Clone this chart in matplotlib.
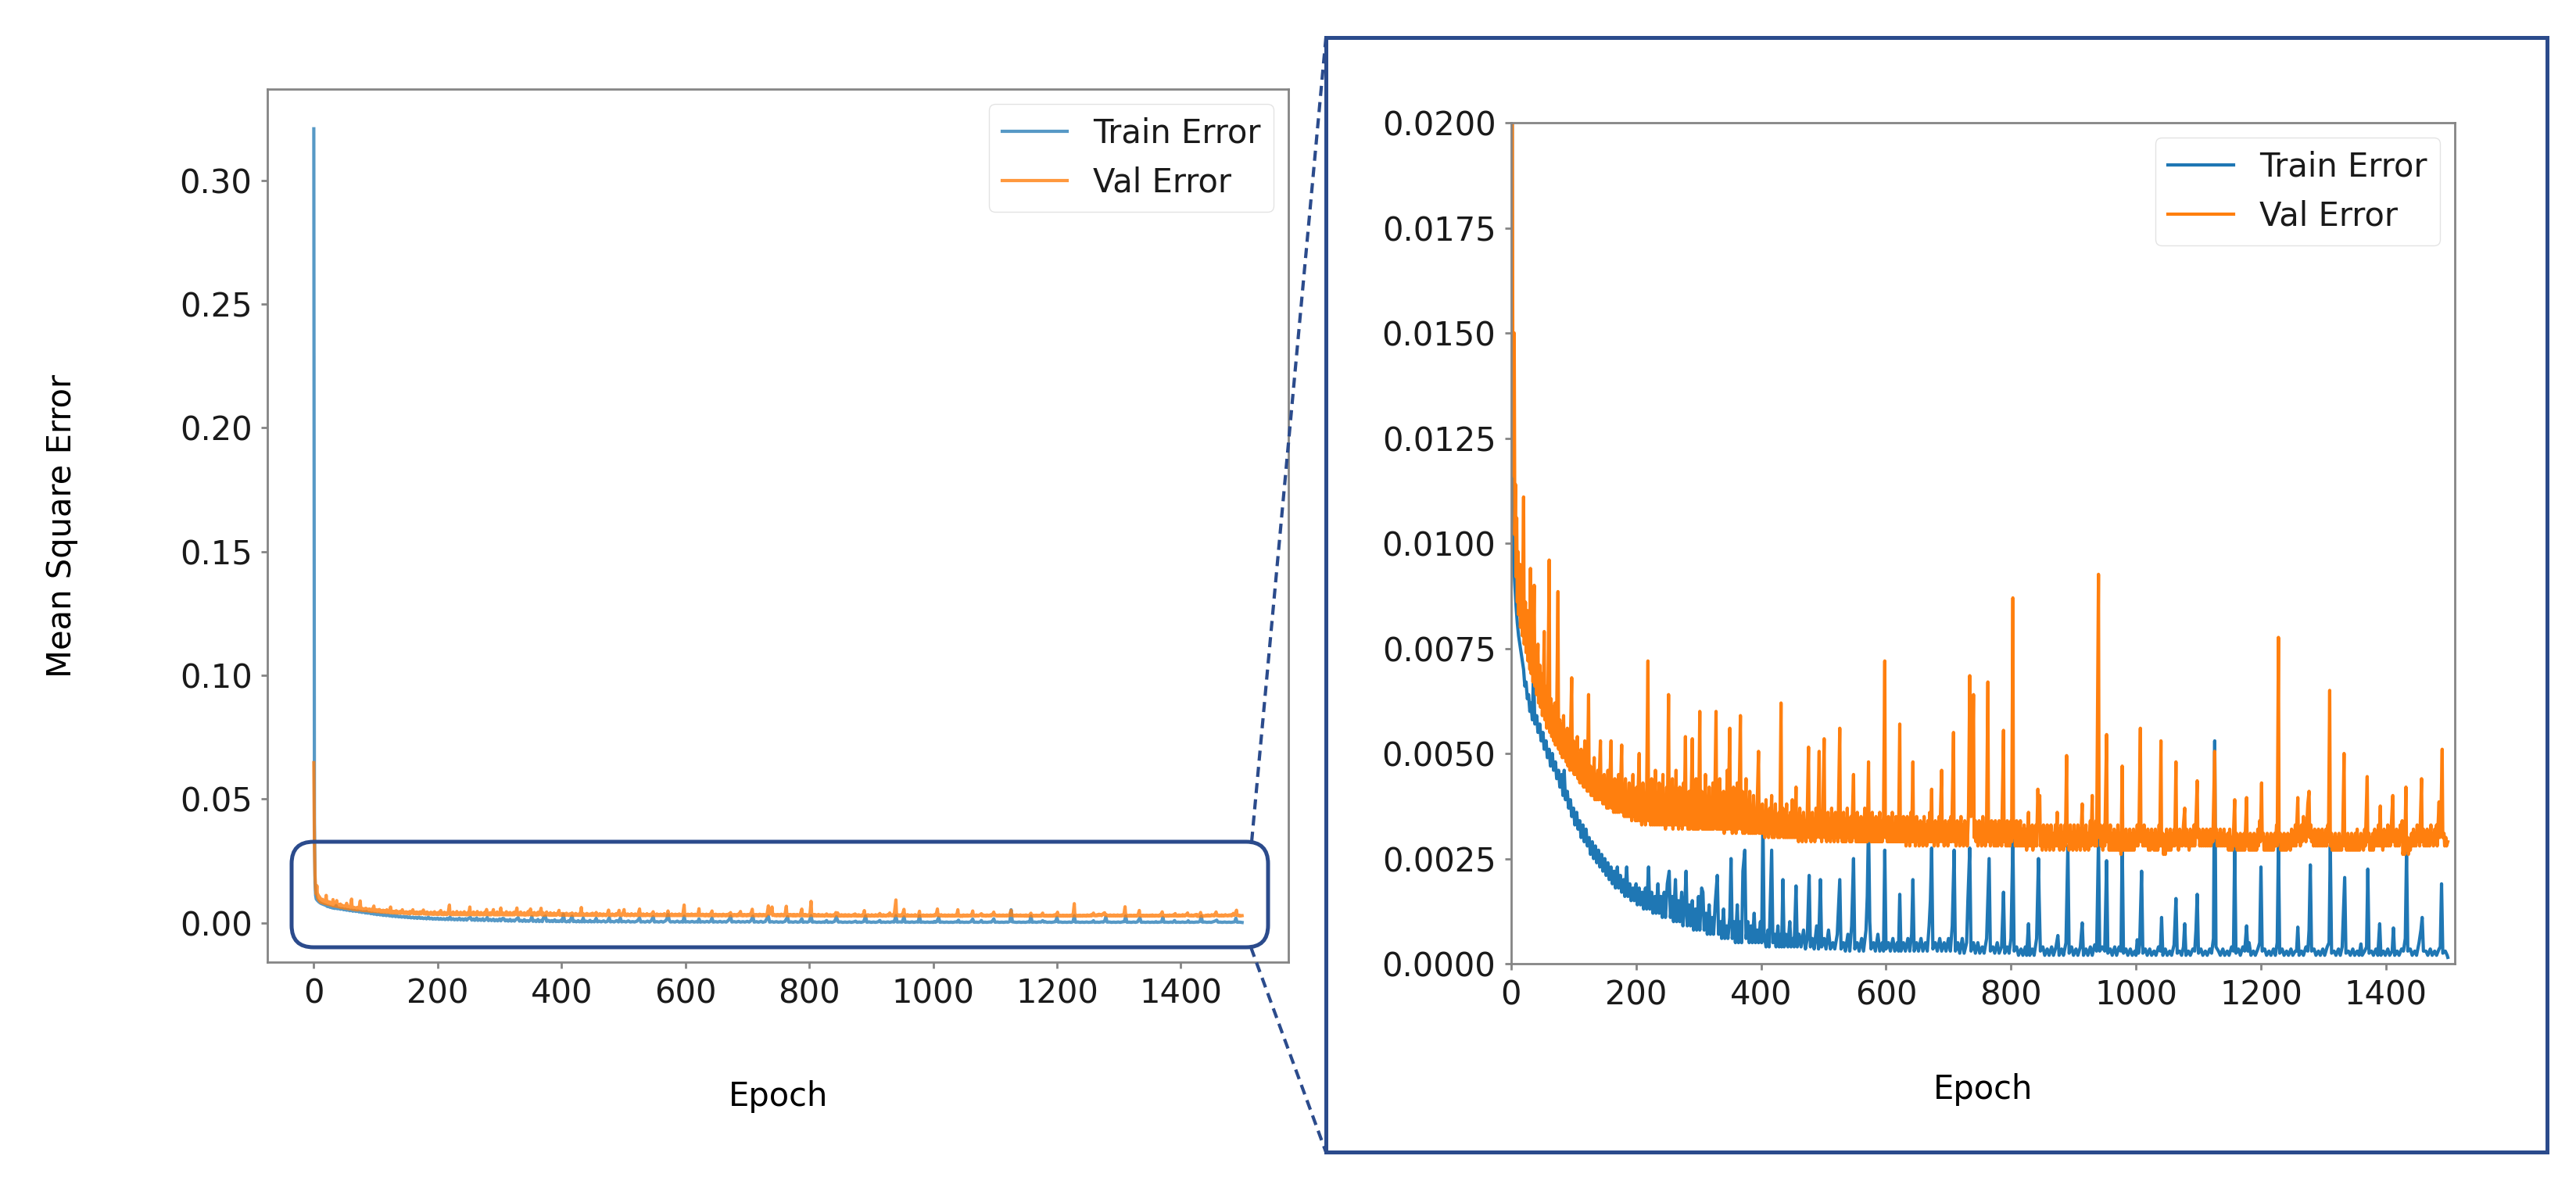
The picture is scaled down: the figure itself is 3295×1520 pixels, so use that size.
import matplotlib
matplotlib.use('Agg')
import matplotlib.pyplot as plt
from matplotlib.patches import FancyBboxPatch, Rectangle
from matplotlib.lines import Line2D
from matplotlib.transforms import IdentityTransform
from matplotlib.ticker import FormatStrFormatter

# (epoch, mse * 1e3)
train_points = [
    (0, 320.8), (1, 40), (2, 16), (3, 11), (4, 9.6), (6, 9.0), (8, 8.5), (10, 8.1), (12, 7.8), (14, 7.6),
    (16, 7.4), (18, 7.2), (20, 7.0), (22, 6.6), (24, 6.7), (26, 6.3), (28, 6.4), (30, 6.0), (32, 6.2), (34, 5.8),
    (36, 7.0), (38, 5.7), (41, 5.9), (43, 5.5), (46, 5.7), (48, 5.3), (51, 5.5), (53, 5.1), (56, 5.3), (58, 4.9),
    (61, 5.1), (63, 4.7), (66, 5.0), (68, 4.6), (71, 4.8), (73, 4.4), (76, 4.6), (78, 4.2), (81, 4.5), (83, 4.0),
    (85, 4.6), (87, 3.9), (90, 4.1), (92, 3.7), (95, 3.9), (97, 3.5), (100, 3.7), (102, 3.3), (105, 3.6), (107, 3.2),
    (110, 3.4), (112, 3.0), (115, 3.3), (117, 2.9), (120, 3.2), (122, 2.8), (125, 3.0), (127, 2.6), (130, 2.9), (132, 2.5),
    (135, 2.8), (137, 2.4), (140, 2.7), (142, 2.3), (145, 2.6), (147, 2.2), (150, 2.5), (152, 2.1), (155, 2.4), (157, 2.0),
    (160, 2.3), (162, 1.9), (165, 2.2), (167, 1.8), (170, 2.3), (172, 1.8), (175, 2.1), (177, 1.7), (180, 2.0), (182, 1.6),
    (185, 2.3), (187, 1.6), (190, 1.9), (192, 1.5), (195, 1.8), (197, 1.5), (200, 1.9), (202, 1.4), (205, 1.8), (207, 1.4),
    (210, 1.7), (212, 1.3), (215, 1.8), (217, 1.3), (220, 2.3), (222, 1.3), (225, 1.7), (227, 1.2), (230, 1.6), (232, 1.2),
    (235, 1.9), (237, 1.2), (240, 1.6), (242, 1.1), (245, 1.7), (247, 1.1), (250, 1.9), (253, 2.2), (255, 1.1), (258, 1.6),
    (260, 1.0), (263, 2.0), (265, 1.0), (268, 1.5), (270, 1.0), (273, 1.7), (275, 0.9), (278, 1.4), (280, 2.2), (282, 0.9),
    (285, 1.4), (287, 0.9), (290, 1.5), (292, 0.8), (295, 1.3), (297, 0.8), (300, 1.6), (302, 0.8), (305, 1.8), (307, 1.7),
    (309, 0.8), (312, 1.2), (314, 0.7), (317, 1.4), (319, 0.7), (322, 1.1), (324, 0.7), (327, 1.5), (330, 2.1), (332, 0.7),
    (335, 1.0), (337, 0.6), (340, 1.3), (342, 0.6), (345, 0.9), (347, 0.6), (350, 1.1), (352, 2.5), (354, 0.6), (357, 1.0),
    (359, 0.5), (362, 1.4), (364, 0.5), (367, 1.0), (369, 0.5), (371, 2.2), (374, 2.7), (376, 0.6), (379, 1.0), (381, 0.5),
    (384, 0.9), (386, 0.5), (389, 1.2), (391, 0.5), (394, 0.8), (396, 0.5), (399, 1.0), (401, 0.5), (403, 3.5), (405, 0.7),
    (408, 0.4), (411, 0.8), (413, 0.4), (417, 2.7), (419, 0.5), (422, 0.7), (424, 0.4), (427, 0.9), (429, 0.4), (432, 0.7),
    (433, 0.4), (435, 2.0), (437, 0.4), (440, 0.7), (443, 0.4), (446, 1.0), (448, 0.4), (451, 0.6), (453, 0.4), (456, 1.85),
    (458, 0.4), (461, 0.7), (464, 0.4), (468, 0.8), (471, 0.35), (474, 0.6), (477, 2.1), (479, 0.4), (482, 0.6), (485, 0.35),
    (489, 0.9), (492, 0.35), (495, 2.0), (497, 0.4), (501, 0.6), (504, 0.35), (508, 0.8), (511, 0.35), (515, 0.5), (518, 0.35),
    (522, 0.7), (526, 2.0), (528, 0.35), (532, 0.5), (535, 0.3), (539, 0.7), (542, 0.3), (545, 0.9), (548, 2.5), (550, 0.35),
    (554, 0.5), (557, 0.3), (561, 0.6), (564, 0.3), (568, 0.8), (570, 1.6), (572, 3.4), (574, 1.0), (576, 0.35), (580, 0.5),
    (583, 0.3), (587, 0.7), (590, 0.3), (594, 0.5), (596, 0.3), (598, 2.7), (600, 0.35), (604, 0.5), (607, 0.3), (611, 0.6),
    (614, 0.3), (618, 0.5), (620, 0.3), (622, 1.65), (624, 0.3), (628, 0.5), (631, 0.3), (635, 0.6), (638, 0.3), (641, 0.7),
    (643, 2.0), (645, 0.3), (649, 0.5), (652, 0.3), (656, 0.6), (659, 0.3), (663, 0.5), (666, 0.3), (669, 0.9), (671, 1.5),
    (673, 2.75), (675, 0.35), (679, 0.5), (682, 0.3), (686, 0.6), (689, 0.3), (693, 0.5), (696, 0.3), (700, 0.6), (703, 0.3),
    (706, 0.9), (709, 2.7), (711, 0.3), (715, 0.5), (718, 0.25), (722, 0.6), (725, 0.25), (729, 0.5), (731, 1.5), (734, 2.75),
    (736, 0.3), (740, 0.5), (743, 0.25), (747, 0.5), (750, 0.25), (754, 0.4), (757, 0.25), (761, 0.6), (765, 2.5), (767, 0.3),
    (771, 0.4), (774, 0.25), (778, 0.5), (781, 0.25), (785, 0.4), (788, 1.7), (790, 0.25), (794, 0.4), (797, 0.25), (800, 0.6),
    (803, 2.95), (805, 0.3), (809, 0.4), (812, 0.2), (816, 0.35), (819, 0.2), (823, 0.4), (825, 0.2), (828, 0.95), (830, 0.2),
    (834, 0.35), (837, 0.2), (841, 0.6), (844, 2.5), (845, 1.6), (847, 0.3), (851, 0.4), (854, 0.2), (858, 0.35), (861, 0.2),
    (865, 0.4), (868, 0.2), (872, 0.4), (875, 0.67), (877, 0.2), (881, 0.35), (884, 0.2), (888, 0.5), (891, 2.8), (893, 0.25),
    (897, 0.4), (900, 0.2), (904, 0.35), (907, 0.2), (911, 0.4), (914, 0.97), (916, 0.2), (920, 0.35), (923, 0.2), (927, 0.4),
    (930, 0.2), (934, 0.45), (937, 0.3), (940, 2.95), (942, 0.3), (946, 0.4), (950, 0.3), (953, 2.45), (955, 0.25), (959, 0.35),
    (962, 0.2), (966, 0.4), (969, 0.2), (973, 0.4), (976, 0.3), (978, 2.9), (980, 0.25), (984, 0.35), (987, 0.2), (991, 0.35),
    (994, 0.2), (998, 0.3), (1000, 0.2), (1002, 0.57), (1004, 0.25), (1006, 0.5), (1009, 2.2), (1011, 0.25), (1015, 0.35), (1018, 0.2),
    (1022, 0.35), (1025, 0.2), (1029, 0.3), (1032, 0.2), (1036, 0.4), (1039, 0.3), (1041, 1.1), (1043, 0.2), (1047, 0.35), (1050, 0.2),
    (1054, 0.3), (1057, 0.2), (1061, 0.45), (1064, 1.55), (1066, 0.25), (1070, 0.3), (1073, 0.2), (1076, 0.4), (1078, 0.95), (1080, 0.2),
    (1084, 0.3), (1087, 0.2), (1091, 0.35), (1094, 0.3), (1096, 0.8), (1098, 1.65), (1100, 0.25), (1104, 0.35), (1107, 0.2), (1111, 0.3),
    (1114, 0.2), (1118, 0.35), (1121, 0.25), (1124, 0.6), (1126, 5.3), (1128, 0.4), (1132, 0.3), (1135, 0.2), (1139, 0.35), (1142, 0.2),
    (1146, 0.3), (1149, 0.2), (1153, 0.4), (1156, 0.3), (1158, 2.8), (1160, 0.25), (1164, 0.35), (1167, 0.2), (1171, 0.4), (1174, 0.3),
    (1177, 0.9), (1179, 0.3), (1181, 0.5), (1184, 0.2), (1188, 0.3), (1191, 0.2), (1195, 0.35), (1198, 0.5), (1200, 2.3), (1202, 0.3),
    (1206, 0.35), (1209, 0.2), (1213, 0.3), (1216, 0.2), (1220, 0.35), (1223, 0.2), (1226, 0.5), (1228, 2.9), (1230, 0.25), (1234, 0.35),
    (1237, 0.2), (1241, 0.3), (1244, 0.2), (1248, 0.35), (1251, 0.2), (1255, 0.3), (1257, 0.3), (1259, 0.87), (1261, 0.2), (1265, 0.3),
    (1268, 0.2), (1272, 0.4), (1275, 0.3), (1277, 0.8), (1279, 2.35), (1281, 0.3), (1285, 0.35), (1288, 0.2), (1292, 0.3), (1295, 0.2),
    (1299, 0.35), (1302, 0.2), (1306, 0.4), (1309, 0.5), (1311, 2.8), (1313, 0.25), (1317, 0.3), (1320, 0.2), (1324, 0.35), (1327, 0.2),
    (1330, 0.4), (1334, 2.05), (1336, 0.25), (1340, 0.3), (1343, 0.2), (1347, 0.35), (1350, 0.2), (1354, 0.3), (1357, 0.2), (1360, 0.47),
    (1362, 0.2), (1366, 0.3), (1369, 0.4), (1371, 2.25), (1373, 0.25), (1377, 0.3), (1380, 0.2), (1384, 0.35), (1387, 0.2), (1390, 0.95),
    (1392, 0.2), (1396, 0.3), (1399, 0.2), (1403, 0.35), (1406, 0.2), (1410, 0.3), (1412, 0.85), (1414, 0.2), (1418, 0.3), (1421, 0.2),
    (1425, 0.35), (1428, 0.3), (1431, 0.6), (1433, 2.7), (1435, 0.3), (1439, 0.35), (1442, 0.2), (1446, 0.3), (1449, 0.2), (1453, 0.5),
    (1456, 0.8), (1458, 1.1), (1460, 0.3), (1464, 0.3), (1467, 0.2), (1471, 0.35), (1474, 0.2), (1478, 0.3), (1481, 0.2), (1485, 0.35),
    (1487, 0.4), (1489, 1.9), (1491, 0.25), (1495, 0.3), (1498, 0.2), (1499, 0.15),
]

val_points = [
    (0, 64.7), (1, 32), (2, 19), (3, 13.5), (4, 11.6), (5, 15.0), (6, 10.2), (7, 11.4), (8, 9.2), (9, 10.6),
    (10, 8.6), (11, 9.8), (12, 8.3), (14, 9.5), (15, 8.0), (17, 9.0), (18, 7.8), (20, 11.1), (21, 7.6), (23, 8.6),
    (24, 7.4), (26, 8.4), (27, 7.2), (29, 8.1), (30, 7.0), (31, 9.4), (32, 6.9), (34, 7.8), (35, 6.7), (37, 9.0),
    (38, 6.6), (40, 7.5), (41, 6.4), (43, 7.6), (44, 6.2), (46, 7.1), (47, 6.1), (49, 6.9), (50, 5.9), (52, 6.8),
    (53, 7.9), (54, 5.8), (56, 6.6), (57, 5.6), (59, 6.5), (61, 9.6), (62, 5.5), (64, 6.3), (65, 5.4), (67, 6.1),
    (68, 5.3), (70, 6.2), (71, 5.2), (73, 5.9), (75, 8.85), (76, 5.1), (78, 5.8), (79, 5.0), (81, 5.7), (82, 4.9),
    (84, 5.9), (85, 4.9), (87, 5.5), (88, 4.8), (90, 5.6), (91, 4.7), (93, 5.4), (94, 4.6), (97, 6.8), (98, 4.6),
    (100, 5.3), (101, 4.5), (103, 5.2), (104, 4.5), (106, 5.4), (107, 4.4), (109, 5.0), (110, 4.3), (112, 5.1), (113, 4.3),
    (115, 4.9), (116, 4.2), (118, 5.3), (119, 4.2), (121, 4.8), (122, 4.1), (124, 6.4), (125, 4.1), (127, 4.7), (128, 4.0),
    (130, 4.6), (131, 4.0), (133, 4.9), (134, 3.9), (136, 4.5), (137, 3.9), (139, 4.6), (140, 3.9), (143, 5.3), (144, 3.9),
    (146, 4.4), (147, 3.8), (149, 4.5), (150, 3.8), (152, 4.3), (153, 3.7), (155, 4.6), (156, 3.7), (158, 4.3), (160, 5.3),
    (161, 3.7), (163, 4.2), (164, 3.6), (166, 4.4), (167, 3.6), (169, 4.2), (170, 3.6), (172, 4.5), (173, 3.6), (175, 4.1),
    (177, 5.2), (178, 3.6), (180, 4.2), (181, 3.5), (183, 4.4), (184, 3.5), (186, 4.0), (187, 3.5), (189, 4.3), (190, 3.5),
    (192, 4.1), (193, 3.4), (195, 4.5), (196, 3.5), (198, 4.0), (199, 3.4),
    (201, 4.2), (202, 3.4), (205, 5.0), (206, 3.4), (208, 4.1), (209, 3.3), (211, 4.3), (212, 3.4), (214, 3.9), (215, 3.3),
    (217, 4.2), (219, 7.2), (220, 3.4), (222, 4.0), (223, 3.3), (225, 4.4), (226, 3.3), (228, 3.9), (229, 3.3), (231, 4.6),
    (232, 3.3), (234, 4.0), (235, 3.3), (237, 4.3), (238, 3.3), (240, 3.9), (241, 3.3), (243, 4.5), (244, 3.3), (246, 3.9),
    (247, 3.2), (249, 4.2), (250, 3.3), (252, 6.4), (253, 3.3), (255, 4.0), (256, 3.3), (258, 4.4), (259, 3.2), (261, 3.9),
    (262, 3.3), (264, 4.6), (265, 3.3), (267, 3.9), (268, 3.2), (270, 4.2), (271, 3.3), (273, 3.8), (274, 3.2), (276, 4.3),
    (277, 3.3), (279, 5.4), (280, 3.3), (282, 3.9), (283, 3.2), (285, 4.1), (286, 3.2), (288, 3.8), (290, 5.35), (291, 3.2),
    (293, 4.0), (294, 3.2), (296, 4.4), (297, 3.2), (299, 3.9), (300, 3.2), (302, 6.0), (303, 3.3), (305, 4.1), (306, 3.2),
    (308, 3.8), (309, 3.2), (311, 4.5), (312, 3.2), (314, 3.9), (315, 3.2), (317, 4.2), (318, 3.2), (320, 3.8), (321, 3.2),
    (323, 4.3), (324, 3.2), (326, 3.9), (328, 6.0), (329, 3.2), (331, 4.0), (332, 3.2), (334, 4.4), (335, 3.2), (337, 3.8),
    (338, 3.2), (340, 4.1), (341, 3.1), (343, 3.8), (344, 3.2), (346, 4.6), (347, 3.2), (350, 5.6), (351, 3.2), (353, 3.9),
    (354, 3.1), (356, 4.2), (357, 3.2), (359, 3.8), (360, 3.1), (362, 4.3), (363, 3.2), (365, 4.0), (367, 5.9), (368, 3.2),
    (370, 4.1), (371, 3.1), (373, 3.8), (374, 3.1), (376, 4.4), (377, 3.2), (379, 3.7), (380, 3.1), (382, 4.1), (383, 3.1),
    (385, 3.7), (386, 3.1), (388, 4.0), (389, 3.1), (391, 3.6), (392, 3.1), (394, 3.9), (396, 5.05), (397, 3.1), (399, 3.7),
    (400, 3.1), (402, 3.8), (403, 3.1), (405, 3.6), (406, 3.0), (408, 3.9), (409, 3.1), (411, 3.5), (412, 3.0), (414, 3.7),
    (415, 3.1), (417, 4.0), (418, 3.0), (420, 3.5), (421, 3.0), (423, 3.8), (424, 3.1), (426, 3.5), (427, 3.0), (429, 3.6),
    (430, 3.0), (432, 6.2), (433, 3.1), (435, 3.7), (436, 3.0), (438, 3.5), (439, 3.0), (441, 3.8), (442, 3.0), (444, 3.5),
    (445, 3.0), (447, 3.6), (448, 3.0), (450, 3.9), (451, 3.0), (453, 3.5), (454, 3.0), (456, 4.2), (457, 3.0), (459, 3.5),
    (460, 2.9), (462, 3.7), (463, 3.0), (465, 3.5), (466, 2.9), (468, 3.6), (469, 3.0), (471, 3.4), (472, 2.9), (474, 3.6),
    (476, 5.15), (477, 3.0), (479, 3.5), (480, 2.9), (482, 3.6), (483, 3.0), (485, 3.4), (486, 2.9), (488, 3.7), (489, 3.0),
    (491, 3.5), (493, 5.05), (494, 3.0), (496, 3.5), (497, 2.9), (499, 3.7), (501, 5.35), (502, 3.0), (504, 3.5), (505, 2.9),
    (507, 3.6), (508, 3.0), (510, 3.4), (511, 2.9), (513, 3.7), (514, 3.0), (516, 3.4), (517, 2.9), (519, 3.6), (520, 3.0),
    (522, 3.4), (523, 2.9), (526, 5.6), (527, 3.0), (529, 3.5), (530, 2.9), (532, 3.6), (533, 2.9), (535, 3.4), (536, 2.9),
    (538, 3.7), (539, 3.0), (541, 3.4), (542, 2.9), (544, 3.5), (545, 2.9), (548, 4.5), (549, 3.0), (551, 3.4), (552, 2.9),
    (554, 3.6), (555, 2.9), (557, 3.4), (558, 2.9), (560, 3.5), (561, 2.9), (563, 3.4), (564, 2.9), (566, 3.7), (567, 2.9),
    (569, 3.4), (570, 2.9), (572, 4.8), (573, 3.0), (575, 3.4), (576, 2.9), (578, 3.6), (579, 2.9), (581, 3.3), (582, 2.9),
    (584, 3.5), (585, 2.9), (587, 3.4), (588, 2.9), (590, 3.6), (591, 2.9), (593, 3.4), (594, 2.9), (596, 3.5), (598, 7.2),
    (599, 3.0), (601, 3.4), (602, 2.9), (604, 3.5), (605, 2.9), (607, 3.3), (608, 2.9), (610, 3.6), (611, 2.9), (613, 3.3),
    (614, 2.9), (616, 3.5), (617, 2.9), (619, 3.3), (620, 2.9), (622, 5.7), (623, 2.9), (625, 3.4), (626, 2.9), (628, 3.5),
    (629, 2.9), (631, 3.3), (632, 2.8), (634, 3.5), (635, 2.9), (637, 3.3), (638, 2.8), (640, 3.6), (641, 2.9), (643, 4.8),
    (644, 2.9), (646, 3.3), (647, 2.8), (649, 3.5), (650, 2.9), (652, 3.3), (653, 2.8), (655, 3.4), (656, 2.9), (658, 3.3),
    (659, 2.8), (661, 3.5), (662, 2.9), (664, 3.3), (665, 2.8), (667, 3.4), (668, 2.9), (670, 3.6), (671, 2.9), (673, 4.15),
    (674, 2.9), (676, 3.3), (677, 2.8), (679, 3.4), (680, 2.9), (682, 3.3), (683, 2.8), (685, 3.5), (686, 2.9), (689, 4.6),
    (690, 2.9), (692, 3.3), (693, 2.8), (695, 3.4), (696, 2.9), (698, 3.3), (699, 2.8), (701, 3.4), (702, 2.9), (704, 3.5),
    (705, 2.9), (708, 5.5), (709, 2.9), (711, 3.3), (712, 2.8), (714, 3.4), (715, 2.9), (717, 3.3), (718, 2.8), (720, 3.5),
    (721, 2.9), (723, 3.3), (724, 2.8), (726, 3.4), (727, 2.9), (729, 3.3), (730, 2.8), (732, 3.6), (734, 6.85), (736, 3.5),
    (738, 4.0), (740, 6.4), (741, 3.0), (743, 3.4), (744, 2.9), (746, 3.3), (747, 2.8), (749, 3.4), (750, 2.9), (752, 3.3),
    (753, 2.8), (755, 3.5), (756, 2.9), (758, 3.3), (759, 2.8), (761, 3.5), (763, 6.7), (764, 2.9), (766, 3.3), (767, 2.8),
    (769, 3.4), (770, 2.9), (772, 3.3), (773, 2.8), (775, 3.4), (776, 2.8), (778, 3.3), (779, 2.8), (781, 3.4), (782, 2.9),
    (784, 3.2), (785, 2.8), (788, 5.55), (789, 2.9), (791, 3.3), (792, 2.8), (794, 3.4), (795, 2.8), (797, 3.2), (798, 2.8),
    (800, 3.4), (801, 2.9), (803, 8.7), (804, 3.0), (806, 3.3), (807, 2.8), (809, 3.4), (810, 2.8), (812, 3.2), (813, 2.8),
    (815, 3.4), (816, 2.8), (818, 3.2), (819, 2.8), (821, 3.3), (822, 2.8), (824, 3.2), (825, 2.7), (828, 3.6), (829, 2.8),
    (831, 3.2), (832, 2.8), (834, 3.3), (835, 2.7), (837, 3.2), (838, 2.8), (840, 3.3), (841, 2.8), (843, 4.15), (844, 3.6),
    (846, 4.0), (847, 2.8), (849, 3.2), (850, 2.7), (852, 3.3), (853, 2.8), (855, 3.2), (856, 2.7), (858, 3.3), (859, 2.8),
    (861, 3.2), (862, 2.7), (864, 3.3), (865, 2.8), (867, 3.1), (868, 2.7), (871, 3.3), (872, 2.8), (874, 3.6), (875, 2.8),
    (877, 3.2), (878, 2.7), (880, 3.3), (881, 2.8), (883, 3.1), (884, 2.7), (886, 3.3), (887, 2.8), (889, 4.95), (890, 2.9),
    (892, 3.2), (893, 2.7), (895, 3.3), (896, 2.8), (898, 3.1), (899, 2.7), (901, 3.3), (902, 2.8), (904, 3.1), (905, 2.7),
    (907, 3.3), (908, 2.8), (910, 3.2), (911, 2.7), (914, 3.8), (915, 2.8), (917, 3.2), (918, 2.7), (920, 3.3), (921, 2.8),
    (923, 3.1), (924, 2.7), (927, 3.4), (928, 2.8), (930, 4.0), (931, 2.9), (933, 3.2), (934, 2.8), (936, 3.4), (937, 2.8),
    (940, 9.26), (941, 3.0), (943, 3.3), (944, 2.8), (946, 3.2), (947, 2.7), (949, 3.3), (950, 2.8), (953, 5.45), (954, 2.9),
    (956, 3.2), (957, 2.7), (959, 3.3), (960, 2.7), (962, 3.1), (963, 2.7), (965, 3.2), (966, 2.7), (968, 3.1), (969, 2.7),
    (971, 3.3), (972, 2.7), (975, 3.1), (976, 2.6), (978, 4.7), (979, 2.7), (981, 3.1), (982, 2.7), (984, 3.2), (985, 2.7),
    (987, 3.0), (988, 2.7), (990, 3.2), (991, 2.7), (993, 3.1), (994, 2.7), (996, 3.2), (997, 2.7), (999, 3.1), (1000, 2.8),
    (1002, 3.3), (1003, 2.8), (1005, 3.4), (1007, 5.6), (1008, 2.9), (1010, 3.2), (1011, 2.8), (1013, 3.3), (1014, 2.8), (1016, 3.1),
    (1017, 2.8), (1019, 3.2), (1020, 2.7), (1022, 3.1), (1023, 2.7), (1025, 3.2), (1026, 2.8), (1028, 3.1), (1029, 2.7), (1031, 3.2),
    (1032, 2.7), (1034, 3.1), (1035, 2.7), (1037, 3.3), (1038, 2.8), (1040, 5.3), (1041, 2.8), (1043, 3.1), (1044, 2.6), (1046, 3.0),
    (1047, 2.6), (1049, 3.2), (1050, 2.7), (1052, 3.1), (1053, 2.7), (1055, 3.2), (1056, 2.7), (1058, 3.1), (1059, 2.8), (1061, 3.2),
    (1062, 2.8), (1064, 4.8), (1065, 2.9), (1067, 3.1), (1068, 2.7), (1070, 3.2), (1071, 2.8), (1073, 3.1), (1074, 2.8), (1076, 3.3),
    (1078, 3.7), (1079, 2.8), (1081, 3.2), (1082, 2.8), (1084, 3.1), (1085, 2.7), (1087, 3.2), (1088, 2.8), (1090, 3.1), (1091, 2.8),
    (1093, 3.3), (1094, 2.8), (1096, 3.4), (1098, 4.35), (1099, 3.0), (1101, 3.2), (1102, 2.8), (1104, 3.1), (1105, 2.8), (1107, 3.2),
    (1108, 2.8), (1110, 3.1), (1111, 2.8), (1113, 3.2), (1114, 2.8), (1116, 3.1), (1117, 2.8), (1119, 3.2), (1120, 2.8), (1122, 3.1),
    (1123, 2.9), (1126, 5.05), (1127, 3.0), (1129, 3.2), (1130, 2.8), (1132, 3.1), (1133, 2.8), (1135, 3.2), (1136, 2.8), (1138, 3.1),
    (1139, 2.8), (1141, 3.2), (1142, 2.8), (1144, 3.0), (1145, 2.8), (1147, 3.1), (1148, 2.7), (1150, 3.2), (1151, 2.7), (1153, 3.0),
    (1154, 2.7), (1156, 3.1), (1158, 3.9), (1159, 2.8), (1161, 3.1), (1162, 2.7), (1164, 3.0), (1165, 2.7), (1167, 3.1), (1168, 2.7),
    (1170, 3.0), (1171, 2.7), (1173, 3.1), (1174, 2.7), (1177, 3.95), (1178, 2.8), (1180, 3.0), (1181, 2.7), (1183, 3.1), (1184, 2.7),
    (1186, 3.0), (1187, 2.7), (1189, 3.1), (1190, 2.7), (1192, 3.0), (1193, 2.7), (1195, 3.2), (1196, 2.8), (1198, 3.4), (1199, 2.9),
    (1201, 4.3), (1202, 3.0), (1204, 3.1), (1205, 2.7), (1207, 3.0), (1208, 2.7), (1210, 3.1), (1211, 2.7), (1213, 3.0), (1214, 2.7),
    (1216, 3.1), (1217, 2.7), (1219, 3.0), (1220, 2.7), (1222, 3.1), (1223, 2.8), (1225, 3.3), (1226, 2.8), (1228, 7.76), (1229, 2.9),
    (1231, 3.1), (1232, 2.7), (1234, 3.0), (1235, 2.7), (1237, 3.1), (1238, 2.7), (1240, 3.0), (1241, 2.7), (1243, 3.1), (1244, 2.8),
    (1246, 3.0), (1247, 2.7), (1249, 3.2), (1250, 2.8), (1252, 3.1), (1253, 2.8), (1255, 3.3), (1256, 2.8), (1259, 3.95), (1260, 2.9),
    (1262, 3.2), (1263, 2.8), (1265, 3.3), (1266, 2.9), (1268, 3.5), (1269, 3.0), (1271, 3.3), (1272, 2.9), (1275, 3.8), (1277, 4.1),
    (1278, 3.0), (1280, 3.3), (1281, 2.9), (1283, 3.1), (1284, 2.8), (1286, 3.2), (1287, 2.8), (1289, 3.1), (1290, 2.8), (1292, 3.2),
    (1293, 2.8), (1295, 3.1), (1296, 2.8), (1298, 3.2), (1299, 2.8), (1301, 3.1), (1302, 2.8), (1304, 3.2), (1305, 2.8), (1307, 3.3),
    (1308, 2.9), (1310, 6.5), (1311, 2.8), (1313, 3.1), (1314, 2.7), (1316, 3.0), (1317, 2.7), (1319, 3.1), (1320, 2.7), (1322, 3.0),
    (1323, 2.7), (1325, 3.1), (1326, 2.7), (1328, 3.0), (1329, 2.7), (1331, 3.2), (1333, 5.0), (1334, 2.8), (1336, 3.0), (1337, 2.7),
    (1339, 3.1), (1340, 2.7), (1342, 3.0), (1343, 2.7), (1345, 3.1), (1346, 2.7), (1348, 3.0), (1349, 2.7), (1351, 3.1), (1352, 2.7),
    (1354, 3.2), (1355, 2.7), (1357, 3.0), (1358, 2.7), (1360, 3.1), (1361, 2.8), (1363, 3.0), (1364, 2.7), (1366, 3.2), (1367, 2.8),
    (1370, 4.45), (1371, 2.9), (1373, 3.1), (1374, 2.7), (1376, 3.0), (1377, 2.7), (1379, 3.1), (1380, 2.7), (1382, 3.2), (1383, 2.8),
    (1385, 3.1), (1386, 2.8), (1388, 3.3), (1389, 2.8), (1391, 3.75), (1392, 2.8), (1394, 3.1), (1395, 2.7), (1397, 3.2), (1398, 2.8),
    (1400, 3.1), (1401, 2.8), (1403, 3.3), (1404, 2.8), (1406, 3.2), (1407, 2.8), (1409, 3.4), (1411, 4.0), (1412, 2.9), (1414, 3.1),
    (1415, 2.8), (1417, 3.2), (1418, 2.8), (1420, 3.1), (1421, 2.8), (1423, 3.3), (1424, 2.9), (1426, 3.4), (1427, 2.6), (1429, 2.8),
    (1430, 2.6), (1432, 4.2), (1433, 2.7), (1435, 3.0), (1436, 2.6), (1438, 2.9), (1439, 2.7), (1441, 3.1), (1442, 2.8), (1444, 3.2),
    (1445, 2.8), (1447, 3.0), (1448, 2.8), (1450, 3.3), (1451, 2.9), (1453, 3.2), (1454, 2.8), (1457, 4.4), (1458, 2.9), (1460, 3.2),
    (1461, 2.8), (1463, 3.1), (1464, 2.8), (1466, 3.2), (1467, 2.8), (1469, 3.1), (1470, 2.8), (1472, 3.3), (1473, 2.9), (1475, 3.1),
    (1476, 2.8), (1478, 3.2), (1479, 2.9), (1481, 3.3), (1482, 2.8), (1485, 3.85), (1486, 3.0), (1488, 3.4), (1490, 5.1), (1491, 3.0),
    (1493, 3.1), (1494, 2.8), (1496, 3.0), (1497, 2.8), (1499, 2.9),
]

train_epoch = [p[0] for p in train_points]
train_mse = [p[1] / 1000 for p in train_points]
val_epoch = [p[0] for p in val_points]
val_mse = [p[1] / 1000 for p in val_points]

left_yticks = [0.00, 0.05, 0.10, 0.15, 0.20, 0.25, 0.30]
right_yticks = [0.0, 0.0025, 0.005, 0.0075, 0.01, 0.0125, 0.015, 0.0175, 0.02]
xticks = [0, 200, 400, 600, 800, 1000, 1200, 1400]

BLUE = '#1f77b4'
ORANGE = '#ff7f0e'
NAVY = '#2b4b8c'
FS = 30

plt.rcParams['font.family'] = ['DejaVu Sans']
plt.rcParams['text.color'] = '#1a1a1a'

fig = plt.figure(figsize=(32.95, 15.2), dpi=100)
fig.patch.set_facecolor('white')

ax1 = fig.add_axes([0.1038, 0.1901, 0.3964, 0.7349])
ax2 = fig.add_axes([0.5866, 0.1888, 0.3663, 0.7079])


def style_axes(ax):
    for s in ax.spines.values():
        s.set_color('#858585')
        s.set_linewidth(2.0)
    ax.tick_params(labelsize=FS, length=6, width=2, color='#858585', labelcolor='#1a1a1a', pad=8)
    ax.set_xticks(xticks)


# left: full view
ax1.plot(train_epoch, train_mse, color=BLUE, lw=3.0, alpha=0.75, label='Train Error')
ax1.plot(val_epoch, val_mse, color=ORANGE, lw=3.0, alpha=0.8, label='Val Error')
ax1.set_yticks(left_yticks)
ax1.yaxis.set_major_formatter(FormatStrFormatter('%.2f'))
style_axes(ax1)
ax1.set_xlabel('Epoch', fontsize=FS)
ax1.xaxis.set_label_coords(0.5, -0.135)
ax1.set_ylabel('Mean Square Error', fontsize=FS)
ax1.yaxis.set_label_coords(-0.185, 0.5)
leg1 = ax1.legend(loc='upper right', fontsize=FS, borderaxespad=0.45, handlelength=2.0)
leg1.get_frame().set_edgecolor('#dddddd')

# right: zoomed view
ax2.plot(train_epoch, train_mse, color=BLUE, lw=3.0, label='Train Error')
ax2.plot(val_epoch, val_mse, color=ORANGE, lw=3.0, label='Val Error')
ax2.set_xlim(0, 1510)
ax2.set_ylim(0, 0.02)
ax2.set_yticks(right_yticks)
ax2.yaxis.set_major_formatter(FormatStrFormatter('%.4f'))
style_axes(ax2)
ax2.set_xlabel('Epoch', fontsize=FS)
ax2.xaxis.set_label_coords(0.5, -0.13)
leg2 = ax2.legend(loc='upper right', fontsize=FS, borderaxespad=0.45, handlelength=2.0)
leg2.get_frame().set_edgecolor('#dddddd')

# zoom markers, in output pixels
px = IdentityTransform()
fig.add_artist(FancyBboxPatch((373, 308), 1249, 135, boxstyle='round,pad=0,rounding_size=28',
                              fc='none', ec=NAVY, lw=3.6, transform=px, zorder=5))
fig.add_artist(Rectangle((1696, 46), 1562, 1426, fc='none', ec=NAVY, lw=3.6, transform=px, zorder=5))
fig.add_artist(Line2D([1601, 1696], [443, 1472], color=NAVY, lw=3, linestyle=(0, (3.1, 1.9)), transform=px))
fig.add_artist(Line2D([1600, 1696], [308, 46], color=NAVY, lw=3, linestyle=(0, (3.1, 1.9)), transform=px))

fig.savefig('out.png', dpi=100, facecolor='white')
